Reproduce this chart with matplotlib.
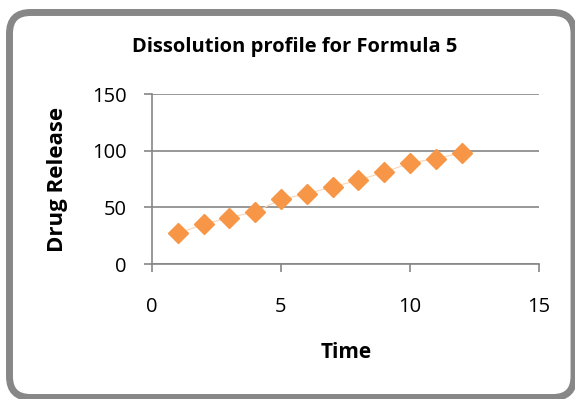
import matplotlib
matplotlib.use("Agg")
import matplotlib.pyplot as plt
from matplotlib.patches import FancyBboxPatch

time = [1, 2, 3, 4, 5, 6, 7, 8, 9, 10, 11, 12]
drug_release = [27, 35, 41, 46, 57, 62, 68, 74, 81, 89, 93, 98]
x_ticks = [0, 5, 10, 15]
y_ticks = [0, 50, 100, 150]

plt.rcParams['font.family'] = ['Open Sans', 'DejaVu Sans']

W, H = 575, 399
fig = plt.figure(figsize=(W / 100, H / 100), dpi=100)

# rounded outer border (units: inches)
border = FancyBboxPatch((9.5 / 100, 1.5 / 100), (574 - 9.5) / 100, (386.5 - 1.5) / 100,
                        boxstyle="round,pad=0,rounding_size=0.21",
                        transform=fig.dpi_scale_trans, fill=False,
                        edgecolor='#878787', linewidth=5, clip_on=False)
fig.patches.append(border)

ax = fig.add_axes([152 / W, 1 - 264 / H, (539 - 152) / W, (264 - 94) / H])
ax.plot(time, drug_release, color='#FBD4B4', linewidth=0.8, zorder=2)
ax.plot(time, drug_release, linestyle='none', marker='D', markersize=10,
        color='#F79646', markeredgecolor='#F79646', zorder=3)

ax.set_xlim(0, 15)
ax.set_ylim(0, 150)
ax.set_xticks(x_ticks)
ax.set_yticks(y_ticks)
ax.tick_params(axis='both', labelsize=14.5, color='#868686', length=6, width=1.2,
               labelcolor='black')
ax.tick_params(axis='x', pad=18)
ax.tick_params(axis='y', pad=12)
ax.yaxis.grid(True, color='#868686', linewidth=1.2)
ax.set_axisbelow(True)
for s in ['top', 'right']:
    ax.spines[s].set_visible(False)
for s in ['left', 'bottom']:
    ax.spines[s].set_color('#868686')
    ax.spines[s].set_linewidth(1.2)

fig.text(295 / W, 1 - 47 / H, 'Dissolution profile for Formula 5', fontsize=14.5,
         fontweight='bold', ha='center', va='center')
fig.text(346 / W, 1 - 353 / H, 'Time', fontsize=15, fontweight='bold',
         ha='center', va='center')
fig.text(58 / W, 1 - 179 / H, 'Drug Release', fontsize=16, fontweight='bold',
         ha='center', va='center', rotation=90)

fig.savefig('out.png', dpi=100)
